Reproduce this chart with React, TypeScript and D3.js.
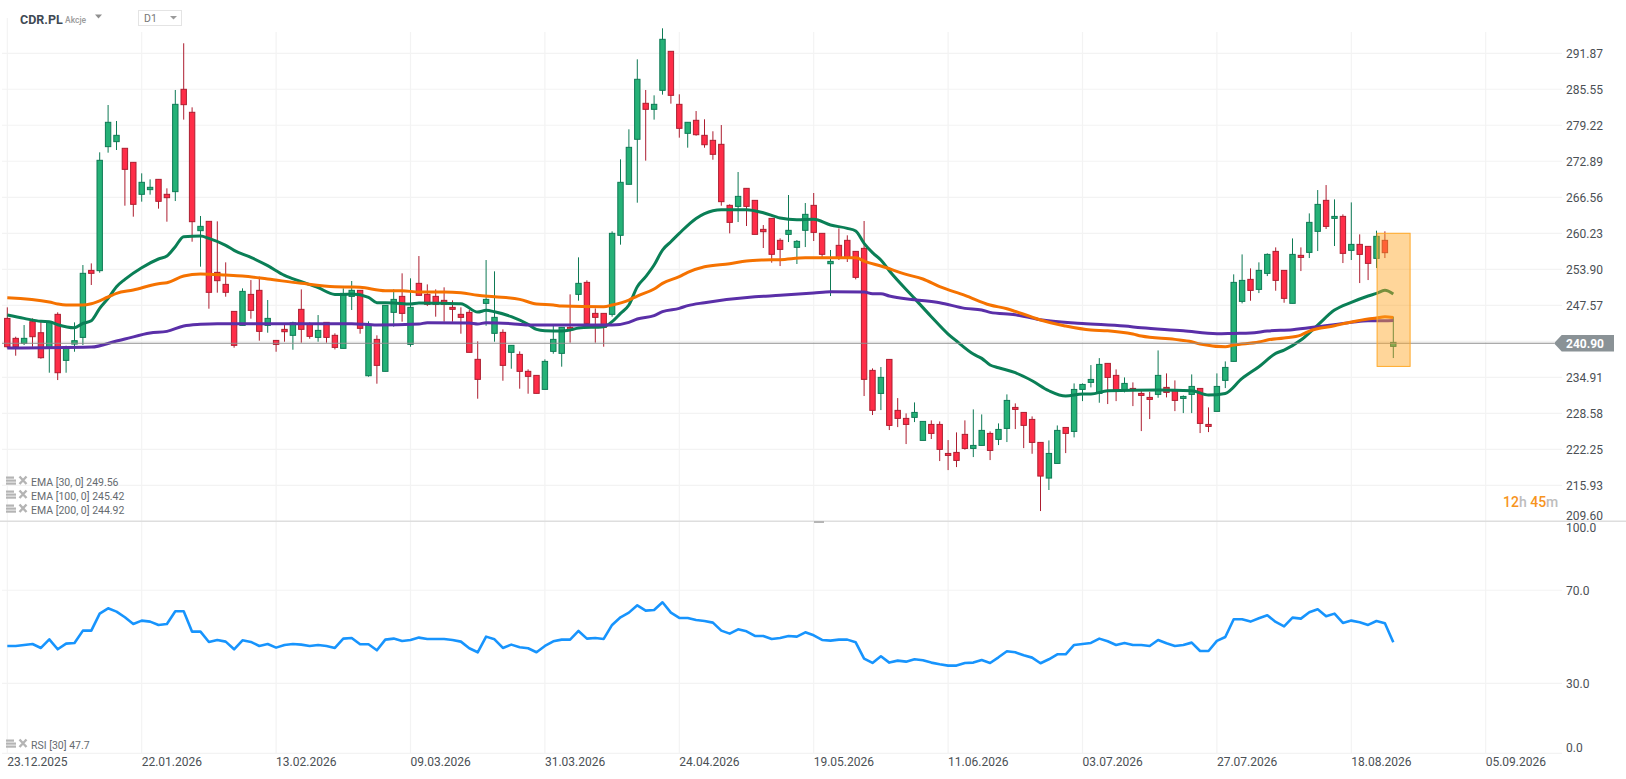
import React, { useEffect, useRef } from "react";
import * as d3 from "d3";

const symbolName = "CDR.PL";
const symbolKind = "Akcje";
const interval = "D1";
const lastPrice = 240.9;
const zoneTop = 260.23;
const zoneBottom = 236.83;

const priceTicks = [291.87, 285.55, 279.22, 272.89, 266.56, 260.23, 253.9, 247.57, 241.24, 234.91, 228.58, 222.25, 215.93, 209.6];
const rsiTicks = [100, 70, 30, 0];
const dateTicks = ["23.12.2025", "22.01.2026", "13.02.2026", "09.03.2026", "31.03.2026", "24.04.2026", "19.05.2026", "11.06.2026", "03.07.2026", "27.07.2026", "18.08.2026", "05.09.2026"];
const candlesPerDateTick = 16;

const opens = [
  245.27, 241.76, 240.88, 244.69, 242.75, 240.0, 245.98, 237.89, 240.76, 241.93,
  253.71, 253.66, 275.46, 276.34, 275.17, 272.7, 267.08, 267.9, 269.71, 267.08,
  267.55, 285.54, 281.5, 260.69, 262.33, 253.36, 251.25, 246.5, 244.04, 249.49,
  250.2, 244.04, 241.4, 243.34, 242.29, 246.86, 244.22, 241.93, 244.57, 242.29,
  240.0, 249.14, 250.2, 235.19, 241.58, 235.96, 246.33, 249.14, 240.7, 251.43,
  249.49, 249.14, 248.44, 247.21, 245.98, 246.33, 238.07, 247.91, 242.64, 242.81,
  239.3, 238.94, 235.96, 235.25, 232.79, 239.47, 239.12, 243.69, 249.49, 251.6,
  246.15, 246.15, 245.98, 259.87, 268.84, 276.75, 283.08, 282.02, 285.36, 292.22,
  282.9, 277.8, 280.09, 277.45, 276.57, 275.87, 265.14, 264.96, 268.13, 266.02,
  260.92, 262.85, 258.99, 260.04, 257.76, 260.75, 265.14, 260.22, 254.88, 258.11,
  258.99, 257.05, 257.58, 236.13, 232.08, 238.06, 229.1, 227.69, 227.87, 223.82,
  226.63, 226.63, 221.53, 221.71, 224.88, 222.41, 222.94, 225.05, 224.0, 225.93,
  229.62, 228.74, 227.51, 223.47, 217.2, 219.77, 226.1, 225.4, 232.78, 234.02,
  232.08, 237.36, 235.25, 232.61, 232.96, 232.08, 231.38, 231.91, 233.14, 232.61,
  231.2, 231.91, 232.96, 226.63, 228.92, 234.37, 237.71, 248.26, 252.13, 250.37,
  253.18, 257.05, 253.71, 247.91, 256.35, 256.87, 260.57, 266.02, 262.85, 263.2,
  257.23, 258.28, 257.93, 255.82, 258.99, 240.35,
];
const highs = [
  247.21, 242.05, 244.1, 245.27, 244.69, 244.69, 246.33, 240.47, 244.57, 254.65,
  254.94, 274.46, 282.78, 279.97, 275.17, 272.7, 270.77, 269.71, 269.71, 268.13,
  285.42, 293.63, 282.37, 263.27, 262.33, 262.33, 255.12, 246.5, 250.55, 252.01,
  252.6, 248.5, 241.46, 244.1, 244.69, 250.37, 244.57, 245.86, 244.57, 242.64,
  250.55, 251.84, 250.2, 244.75, 242.29, 247.56, 250.37, 253.19, 252.31, 256.23,
  251.25, 250.37, 250.73, 248.44, 247.21, 246.74, 241.23, 255.53, 253.54, 243.34,
  240.53, 239.47, 236.31, 235.25, 238.07, 244.22, 243.69, 249.49, 256.0, 251.96,
  247.03, 246.15, 260.57, 273.23, 278.51, 290.81, 285.42, 284.48, 296.26, 292.22,
  284.66, 279.74, 281.72, 280.27, 278.16, 279.26, 265.32, 271.0, 268.13, 266.02,
  261.68, 262.85, 259.34, 266.96, 259.05, 265.55, 267.31, 260.22, 257.29, 261.1,
  259.87, 257.05, 262.39, 236.48, 236.72, 238.06, 231.26, 228.57, 230.5, 227.16,
  227.34, 227.16, 223.88, 225.23, 227.34, 229.27, 228.39, 225.4, 226.81, 231.91,
  230.33, 228.74, 228.04, 223.47, 223.82, 226.45, 226.1, 233.84, 233.84, 237.06,
  238.29, 237.36, 236.3, 234.89, 234.02, 232.61, 232.37, 239.64, 235.6, 234.37,
  231.73, 235.42, 232.96, 229.62, 235.6, 237.71, 253.01, 256.52, 254.06, 255.12,
  256.7, 257.75, 253.71, 259.33, 257.75, 263.73, 267.83, 268.71, 266.19, 263.55,
  265.66, 260.04, 257.93, 260.69, 260.57, 245.56,
];
const lows = [
  240.0, 238.71, 240.59, 240.29, 238.18, 235.72, 234.43, 235.72, 239.41, 240.59,
  251.14, 253.3, 274.4, 274.87, 265.08, 263.15, 265.79, 267.02, 264.56, 262.27,
  265.9, 280.21, 258.75, 254.36, 246.97, 249.79, 249.08, 240.12, 244.04, 245.22,
  241.35, 242.75, 239.41, 241.17, 239.76, 241.0, 241.7, 241.17, 241.0, 239.82,
  240.0, 246.74, 242.58, 235.02, 233.79, 235.96, 243.81, 244.69, 240.29, 249.32,
  247.44, 245.57, 244.69, 244.69, 242.58, 239.3, 231.15, 243.98, 241.17, 234.31,
  236.42, 232.91, 232.03, 232.09, 232.79, 239.06, 236.78, 241.0, 248.38, 244.04,
  241.0, 240.29, 245.57, 258.23, 268.84, 265.61, 273.0, 280.21, 284.6, 283.02,
  277.04, 275.28, 277.38, 275.27, 273.16, 265.08, 260.22, 262.21, 261.51, 260.04,
  257.64, 255.06, 254.47, 258.69, 254.83, 257.81, 258.87, 256.0, 249.2, 255.53,
  255.18, 252.13, 231.62, 228.28, 229.15, 225.64, 226.16, 223.18, 227.04, 223.82,
  224.06, 220.19, 218.6, 219.13, 222.18, 220.89, 222.94, 220.36, 223.0, 223.53,
  225.81, 222.47, 221.47, 211.4, 215.1, 219.77, 221.59, 224.35, 230.73, 233.14,
  230.44, 230.21, 230.73, 232.26, 229.85, 225.46, 227.57, 231.32, 231.38, 228.97,
  228.62, 228.62, 225.11, 225.28, 228.92, 233.02, 237.71, 247.91, 248.37, 249.72,
  252.71, 250.13, 248.02, 247.91, 253.59, 255.88, 257.11, 260.98, 257.99, 255.0,
  255.53, 251.48, 252.01, 254.12, 255.88, 238.3,
];
const closes = [
  240.29, 240.29, 241.76, 242.05, 238.36, 244.69, 235.72, 240.29, 241.35, 253.19,
  253.19, 273.06, 279.74, 277.45, 271.47, 265.32, 269.19, 268.31, 265.85, 266.49,
  282.9, 282.84, 262.27, 261.45, 249.85, 251.9, 249.85, 240.53, 250.02, 246.68,
  242.99, 245.27, 240.7, 242.93, 244.5, 243.34, 242.11, 243.16, 241.93, 240.17,
  249.67, 250.2, 243.52, 244.22, 237.01, 247.56, 248.61, 246.15, 247.21, 249.32,
  247.74, 247.74, 247.74, 246.86, 245.45, 239.3, 234.55, 248.61, 245.45, 237.01,
  240.53, 235.96, 235.08, 232.09, 237.71, 241.58, 243.69, 243.22, 251.43, 244.39,
  245.45, 243.69, 260.22, 269.19, 275.34, 287.3, 282.02, 282.9, 294.33, 284.48,
  278.68, 279.74, 277.56, 275.8, 274.11, 265.79, 262.15, 266.72, 264.96, 260.04,
  260.51, 256.53, 257.4, 260.75, 258.81, 263.56, 260.39, 256.53, 255.29, 255.82,
  256.0, 252.48, 234.55, 229.1, 234.9, 226.46, 227.69, 226.63, 228.74, 227.16,
  225.05, 222.24, 221.18, 220.3, 222.41, 222.94, 225.58, 222.06, 225.75, 230.85,
  229.27, 226.46, 223.47, 217.55, 221.53, 225.58, 225.05, 232.78, 233.66, 234.54,
  237.18, 234.89, 232.61, 233.84, 232.61, 231.73, 231.03, 235.25, 232.26, 230.85,
  231.55, 233.31, 226.81, 226.28, 233.31, 236.65, 251.6, 251.95, 250.19, 253.71,
  256.52, 251.95, 248.79, 256.52, 255.99, 262.15, 265.31, 261.44, 263.2, 256.7,
  258.28, 256.52, 254.94, 259.69, 256.82, 241.05,
];

// [candle index, value]
const ema30: [number, number][] = [
  [0, 245.86], [2, 245.27], [4, 244.75], [5, 244.69], [6, 244.16], [8, 243.63], [9, 244.39], [10, 244.87], [11, 247.03], [12, 248.79],
  [13, 250.84], [14, 252.13], [16, 254.18], [18, 255.71], [19, 256.23], [20, 257.88], [21, 259.63], [23, 259.75], [24, 259.34], [26, 258.11],
  [27, 257.23], [29, 256.0], [31, 254.54], [33, 252.83], [35, 251.73], [37, 250.67], [39, 249.49], [40, 249.49], [41, 249.55], [43, 248.97],
  [44, 248.03], [46, 247.97], [48, 247.8], [49, 247.97], [52, 247.91], [54, 247.85], [56, 246.39], [57, 246.68], [58, 246.44], [60, 245.57],
  [62, 244.22], [63, 243.34], [64, 243.11], [66, 243.05], [67, 243.22], [68, 243.58], [71, 243.81], [72, 244.69], [73, 246.15], [74, 247.62],
  [75, 250.84], [76, 252.6], [77, 254.65], [78, 257.29], [79, 258.75], [80, 260.22], [82, 262.85], [84, 264.2], [85, 264.38], [88, 264.38],
  [90, 263.85], [92, 262.91], [94, 262.62], [96, 262.68], [98, 261.68], [100, 261.1], [101, 260.63], [102, 258.46], [103, 256.82], [104, 255.53],
  [105, 253.65], [108, 248.79], [110, 245.57], [112, 242.52], [113, 241.29], [115, 239.0], [116, 238.24], [117, 237.07], [118, 236.6], [120, 235.72],
  [122, 234.31], [124, 232.55], [126, 231.61], [128, 231.96], [129, 231.96], [131, 232.55], [137, 232.67], [141, 232.55], [143, 231.79], [145, 232.08],
  [147, 234.72], [149, 236.77], [151, 239.11], [152, 239.7], [154, 241.46], [156, 244.1], [158, 246.73], [160, 248.08], [162, 249.2], [163, 249.67],
  [164, 250.2], [165, 249.56],
];
const ema100: [number, number][] = [
  [0, 248.91], [5, 248.15], [6, 247.8], [7, 247.62], [9, 247.62], [10, 247.85], [12, 249.03], [13, 249.67], [15, 250.26], [18, 251.37],
  [19, 251.55], [21, 252.72], [23, 253.07], [26, 252.89], [28, 252.72], [31, 252.19], [35, 251.43], [39, 250.84], [41, 250.78], [42, 250.73],
  [45, 250.14], [47, 250.14], [49, 249.9], [52, 249.9], [54, 249.79], [56, 249.32], [58, 249.08], [61, 248.61], [63, 247.8], [65, 247.62],
  [66, 247.44], [71, 247.32], [72, 247.62], [74, 248.5], [75, 249.2], [77, 250.43], [78, 251.43], [80, 252.6], [81, 253.36], [83, 254.36],
  [86, 254.88], [88, 255.35], [90, 255.53], [92, 255.59], [95, 255.94], [101, 255.94], [102, 255.35], [104, 254.47], [107, 253.01], [109, 252.19],
  [111, 250.84], [114, 249.32], [117, 247.62], [119, 246.97], [120, 246.5], [122, 245.5], [123, 244.98], [126, 243.92], [129, 243.22], [131, 243.1],
  [134, 242.51], [135, 242.16], [139, 241.58], [141, 241.17], [142, 240.76], [145, 240.29], [146, 240.58], [149, 241.11], [150, 241.46], [152, 241.81],
  [154, 242.34], [155, 243.04], [158, 243.98], [160, 244.62], [162, 245.15], [163, 245.33], [164, 245.56], [165, 245.42],
];
const ema200: [number, number][] = [
  [0, 240.06], [10, 240.23], [13, 241.29], [14, 241.64], [17, 242.7], [19, 242.99], [21, 243.93], [23, 244.22], [25, 244.34], [41, 244.34],
  [44, 244.1], [49, 244.28], [50, 244.51], [55, 244.45], [56, 244.28], [57, 244.51], [60, 244.34], [62, 244.1], [72, 244.1], [74, 244.57],
  [75, 245.16], [77, 245.74], [78, 246.45], [80, 247.03], [81, 247.51], [83, 248.03], [89, 249.08], [92, 249.32], [96, 249.73], [98, 249.96],
  [102, 249.9], [103, 249.61], [104, 249.61], [105, 249.2], [108, 248.55], [111, 248.03], [114, 247.03], [116, 246.74], [117, 246.33], [120, 245.9],
  [122, 245.35], [123, 245.03], [128, 244.39], [133, 243.92], [135, 243.63], [140, 243.1], [144, 242.57], [146, 242.63], [148, 242.69], [150, 243.04],
  [153, 243.28], [156, 243.8], [160, 244.57], [162, 244.86], [163, 244.85], [165, 244.92],
];

const rsi = [
  46.09, 46.09, 46.52, 46.95, 45.23, 48.95, 44.66, 47.09, 47.38, 52.67,
  52.67, 59.97, 62.26, 60.83, 58.4, 55.53, 56.97, 56.54, 55.11, 55.53,
  60.97, 60.97, 52.24, 52.24, 47.81, 48.67, 47.95, 44.66, 48.52, 47.81,
  46.09, 46.95, 45.37, 46.52, 46.95, 46.66, 46.09, 46.52, 46.09, 45.23,
  49.24, 49.52, 46.81, 46.81, 44.23, 48.81, 49.24, 48.24, 48.67, 49.67,
  49.1, 49.1, 49.1, 48.67, 47.95, 45.09, 43.37, 50.1, 48.95, 45.23,
  46.66, 45.52, 45.09, 43.37, 46.09, 48.09, 48.81, 48.81, 52.53, 49.24,
  49.52, 49.1, 55.11, 58.4, 60.4, 63.55, 61.26, 61.54, 64.84, 60.4,
  58.11, 58.11, 57.25, 56.82, 56.11, 52.67, 51.38, 53.25, 52.39, 50.38,
  50.38, 49.1, 49.52, 50.38, 50.1, 51.96, 50.67, 48.67, 48.38, 48.81,
  48.81, 47.66, 40.65, 38.79, 41.65, 38.94, 39.79, 39.36, 40.37, 39.94,
  38.94, 38.22, 37.65, 37.65, 38.79, 38.94, 40.08, 38.79, 41.22, 43.8,
  43.37, 42.08, 41.08, 38.65, 40.37, 42.51, 42.51, 46.52, 46.95, 47.38,
  49.24, 48.09, 46.52, 47.38, 46.52, 46.52, 46.09, 48.67, 47.23, 46.09,
  46.52, 47.52, 43.94, 43.94, 48.24, 49.95, 57.54, 57.54, 56.54, 57.97,
  59.26, 56.39, 54.53, 58.25, 57.82, 60.54, 61.83, 58.83, 59.97, 55.96,
  56.97, 56.25, 55.11, 56.82, 55.82, 47.7,
];

const legendRows = ["EMA [30, 0] 249.56", "EMA [100, 0] 245.42", "EMA [200, 0] 244.92"];
const rsiLegend = "RSI [30] 47.7";

const GREEN = "#25b177";
const GREEN_DARK = "#0e7a55";
const RED = "#ff2d48";
const RED_DARK = "#ad1e30";
const GRID = "#f3f3f3";
const FONT = "Roboto, sans-serif";

const drawChart = (el: SVGSVGElement) => {
  const width = 1626;
  const height = 779;
  const svg = d3.select(el);
  svg.selectAll("*").remove();
  svg.attr("width", width).attr("height", height).attr("viewBox", `0 0 ${width} ${height}`);
  svg.append("rect").attr("width", width).attr("height", height).attr("fill", "#fff");

  const x = d3.scaleLinear().domain([0, (dateTicks.length - 1) * candlesPerDateTick]).range([7.3, 1485.7]);
  const y = d3.scaleLinear().domain([209.6, 291.87]).range([521.3, 53.3]);
  const yRsi = d3.scaleLinear().domain([0, 100]).range([753.3, 520.4]);

  // grid
  const grid = svg.append("g").attr("stroke", GRID).attr("stroke-width", 1.2);
  dateTicks.forEach((_, i) => {
    const gx = x(i * candlesPerDateTick);
    grid.append("line").attr("x1", gx).attr("x2", gx).attr("y1", i === 0 ? 18 : 32).attr("y2", 753);
  });
  priceTicks.slice(0, -1).forEach((p) => {
    grid.append("line").attr("x1", 2).attr("x2", 1562).attr("y1", y(p)).attr("y2", y(p));
  });
  rsiTicks.slice(1).forEach((v) => {
    grid.append("line").attr("x1", 2).attr("x2", 1562).attr("y1", yRsi(v)).attr("y2", yRsi(v));
  });

  // panel separator
  svg.append("line").attr("x1", 0).attr("x2", width).attr("y1", 521.3).attr("y2", 521.3).attr("stroke", "#dedede").attr("stroke-width", 1.4);
  svg.append("rect").attr("x", 814).attr("y", 521).attr("width", 10).attr("height", 2).attr("fill", "#b5b5b5");

  // candles
  const candles = svg.append("g");
  opens.forEach((o, i) => {
    const c = closes[i];
    const up = c > o;
    const cx = x(i);
    candles.append("line")
      .attr("x1", cx).attr("x2", cx)
      .attr("y1", y(highs[i])).attr("y2", y(lows[i]))
      .attr("stroke", up ? GREEN_DARK : RED_DARK)
      .attr("stroke-width", 1);
    candles.append("rect")
      .attr("x", cx - 2.7).attr("width", 5.4)
      .attr("y", y(Math.max(o, c)))
      .attr("height", Math.abs(y(o) - y(c)))
      .attr("fill", up ? GREEN : RED)
      .attr("stroke", up ? GREEN_DARK : RED_DARK)
      .attr("stroke-width", 1);
  });

  // EMA lines
  const emaLine = d3.line<[number, number]>().x((d) => x(d[0])).y((d) => y(d[1])).curve(d3.curveMonotoneX);
  [
    { data: ema30, color: "#0a7f56" },
    { data: ema200, color: "#5a2fa8" },
    { data: ema100, color: "#f57200" },
  ].forEach((s) => {
    svg.append("path").attr("d", emaLine(s.data)).attr("fill", "none").attr("stroke", s.color).attr("stroke-width", 3).attr("stroke-linejoin", "round");
  });

  // current price line
  svg.append("line").attr("x1", 2).attr("x2", 1554).attr("y1", y(lastPrice)).attr("y2", y(lastPrice)).attr("stroke", "#8e8e8e").attr("stroke-width", 1);

  // highlighted zone over the last candles
  svg.append("rect")
    .attr("x", x(163) + 0.6).attr("width", x(167) - x(163) - 0.6)
    .attr("y", y(zoneTop)).attr("height", y(zoneBottom) - y(zoneTop))
    .attr("fill", "#ffa51e").attr("fill-opacity", 0.45)
    .attr("stroke", "#ffa928").attr("stroke-width", 1);

  // RSI
  const rsiLine = d3.line<number>().x((_, i) => x(i)).y((d) => yRsi(d));
  svg.append("path").attr("d", rsiLine(rsi)).attr("fill", "none").attr("stroke", "#1794fd").attr("stroke-width", 2.6).attr("stroke-linejoin", "round");

  // axes labels
  const axisText = (tx: number, ty: number, label: string) =>
    svg.append("text").attr("x", tx).attr("y", ty).attr("font-family", FONT).attr("font-size", 12).attr("fill", "#4b5055").text(label);

  priceTicks.forEach((p, i) => {
    if (Math.abs(p - lastPrice) < 1) return;
    // the lowest label sits above the panel separator
    axisText(1566, y(p) + (i === priceTicks.length - 1 ? -1.3 : 4.5), p.toFixed(2));
  });
  rsiTicks.forEach((v) => {
    const shift = v === 100 ? 11.5 : v === 0 ? -1.5 : 4.5;
    axisText(1566, yRsi(v) + shift, v.toFixed(1));
  });
  dateTicks.forEach((d, i) => {
    axisText(x(i * candlesPerDateTick), 766, d);
  });

  // price tag
  const py = y(lastPrice);
  svg.append("path")
    .attr("d", `M1554,${py} L1561.7,${py - 8.2} H1614 V${py + 8.2} H1561.7 Z`)
    .attr("fill", "#8a9296");
  svg.append("text").attr("x", 1566).attr("y", py + 4.5).attr("font-family", FONT).attr("font-size", 12).attr("font-weight", 700).attr("fill", "#fff").text(lastPrice.toFixed(2));

  // header
  svg.append("text").attr("x", 20).attr("y", 23.5).attr("font-family", FONT).attr("font-size", 12.5).attr("font-weight", 700).attr("fill", "#3f4a54").text(symbolName);
  svg.append("text").attr("x", 65).attr("y", 22.5).attr("font-family", FONT).attr("font-size", 8.5).attr("font-weight", 500).attr("fill", "#9b9b9b").text(symbolKind);
  svg.append("path").attr("d", "M95,14.5 H102 L98.5,18.5 Z").attr("fill", "#8f8f8f");
  svg.append("rect").attr("x", 138.5).attr("y", 10.5).attr("width", 43).attr("height", 15).attr("fill", "#fff").attr("stroke", "#e4e4e4");
  svg.append("text").attr("x", 144).attr("y", 22).attr("font-family", FONT).attr("font-size", 10.5).attr("fill", "#777").text(interval);
  svg.append("path").attr("d", "M170,16 H177 L173.5,19.5 Z").attr("fill", "#9a9a9a");

  // legend rows with their small icons
  const legendRow = (cy: number, label: string) => {
    const g = svg.append("g");
    [-4.5, -1.5, 1.5].forEach((dy, k) => {
      g.append("rect").attr("x", 6).attr("y", cy + dy).attr("width", k === 0 ? 8 : 10).attr("height", 2.2).attr("fill", "#b4b4b4");
    });
    g.append("path").attr("d", `M19.5,${cy - 4.5} L26.5,${cy + 3} M26.5,${cy - 4.5} L19.5,${cy + 3}`).attr("stroke", "#b4b4b4").attr("stroke-width", 2.4);
    g.append("text").attr("x", 31).attr("y", cy + 4.7).attr("font-family", FONT).attr("font-size", 10.5).attr("fill", "#666b70").text(label);
  };
  legendRows.forEach((row, i) => legendRow(481 + i * 14, row));
  legendRow(744, rsiLegend);

  // countdown
  const timer = svg.append("text").attr("x", 1503).attr("y", 507).attr("font-family", FONT).attr("font-size", 14).attr("font-weight", 500);
  timer.append("tspan").attr("fill", "#f7941d").text("12");
  timer.append("tspan").attr("fill", "#bdbdbd").text("h ");
  timer.append("tspan").attr("fill", "#f7941d").text("45");
  timer.append("tspan").attr("fill", "#bdbdbd").text("m");
};

export default function App() {
  const ref = useRef<SVGSVGElement>(null);
  useEffect(() => {
    document.body.style.margin = "0";
    if (ref.current) drawChart(ref.current);
  }, []);
  return <svg ref={ref} style={{ display: "block" }} />;
}
